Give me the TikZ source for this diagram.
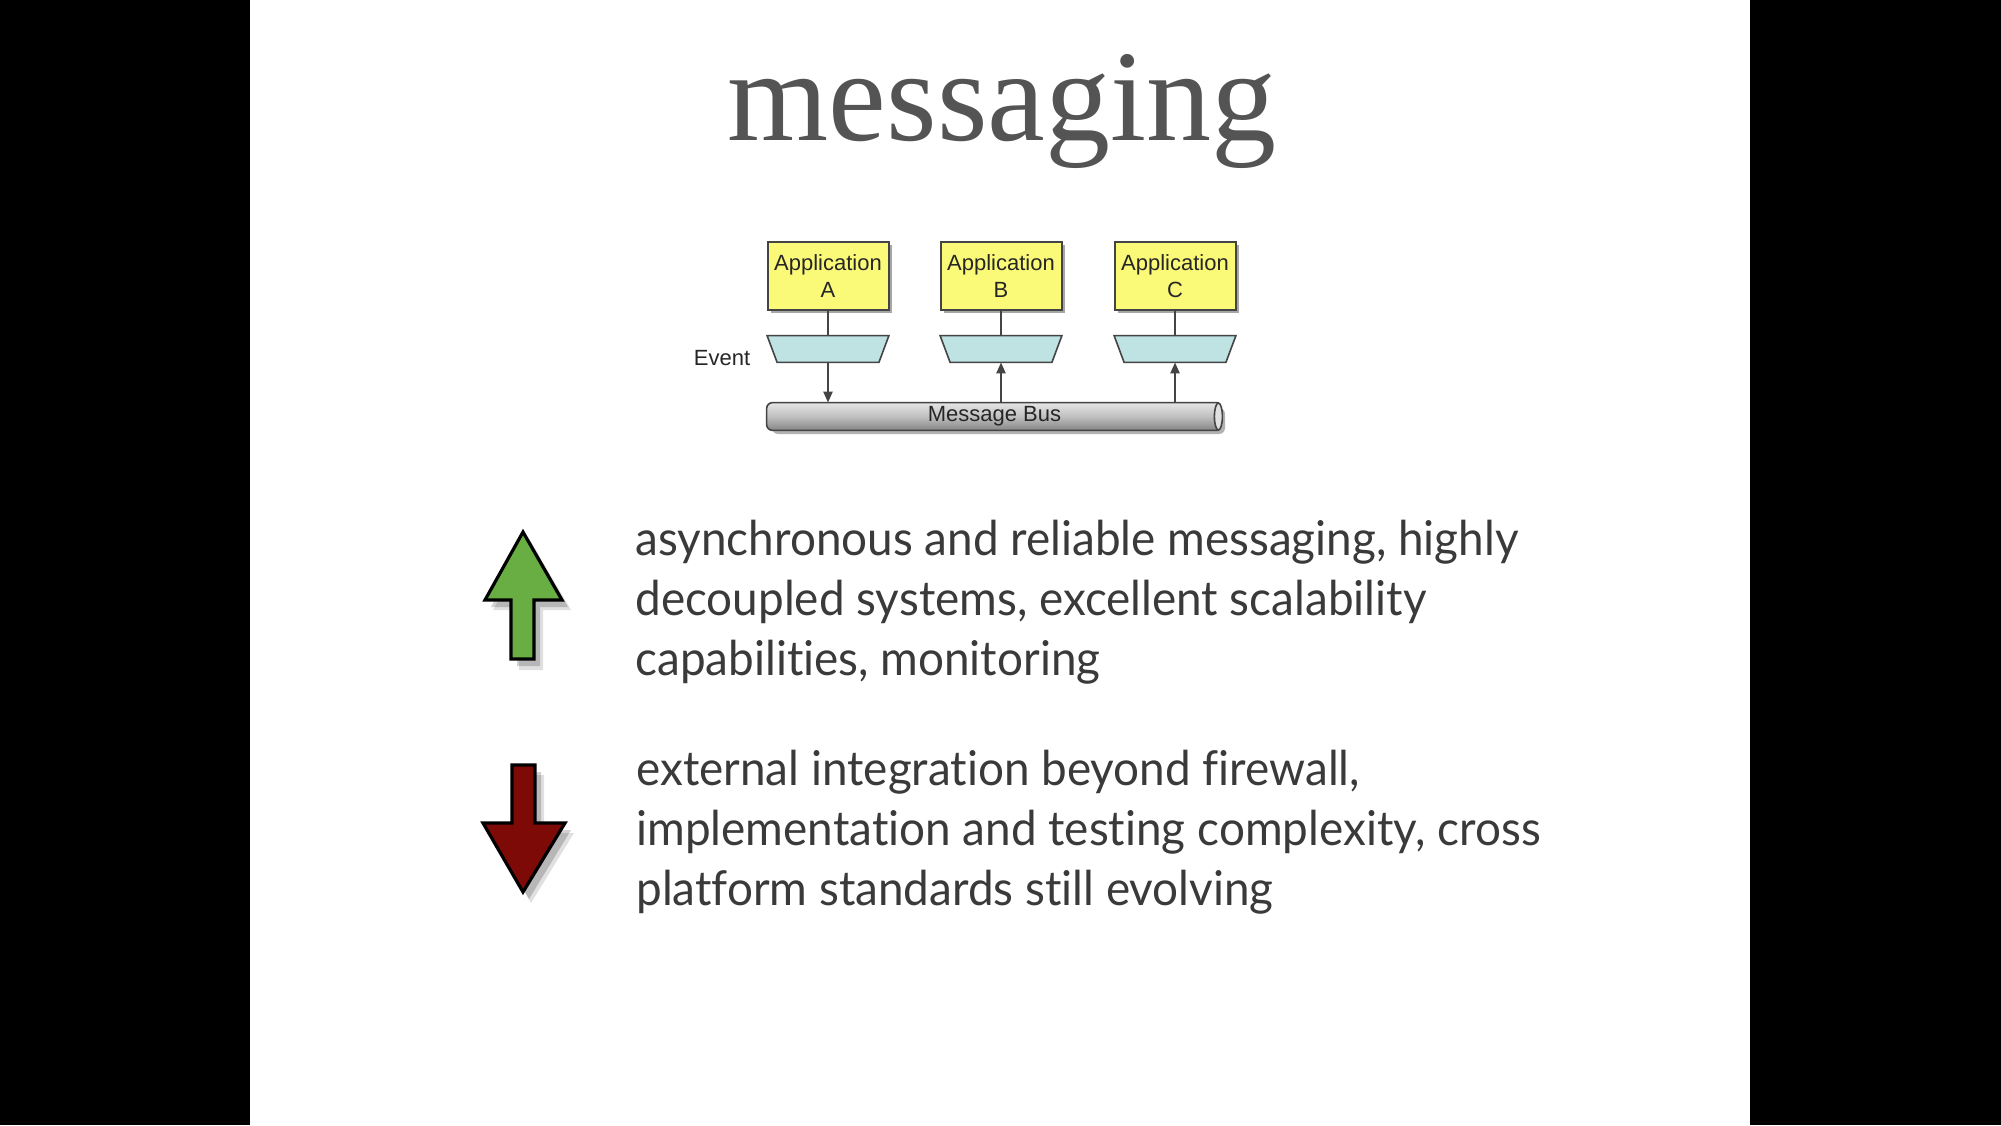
\documentclass[tikz,border=0pt]{standalone}
\usepackage{fontspec}
\setmainfont{Liberation Serif}
\newfontfamily\arialf{Liberation Sans}
\newfontfamily\bodyf[FakeStretch=0.955,Ligatures={NoCommon}]{Lato}
\usetikzlibrary{shapes.geometric,arrows.meta}
\definecolor{titlegray}{HTML}{545454}
\definecolor{bodygray}{HTML}{3A3A3A}
\definecolor{appyellow}{HTML}{FAFA78}
\definecolor{evcyan}{HTML}{BFE3E3}
\definecolor{upgreen}{HTML}{68AE42}
\definecolor{downred}{HTML}{7E0A08}
\definecolor{lineg}{HTML}{444444}
\tikzset{
  appbox/.style={draw=lineg, line width=1pt, fill=appyellow, minimum width=60.5pt, minimum height=34pt, inner sep=0pt, align=center, font=\arialf\fontsize{11}{13.5}\selectfont, text=black!85},
  evbox/.style={draw=none, rectangle, minimum width=60.5pt, minimum height=13pt, inner sep=0pt},
  evshape/.style={draw=lineg, line width=0.8pt, fill=evcyan, line join=miter},
  conn/.style={draw=lineg, line width=1.1pt},
  tipd/.style={-{Triangle[length=5.5pt,width=4.5pt]}},
  bodytext/.style={anchor=base west, inner sep=0pt, text=bodygray, font=\bodyf\fontsize{24}{28}\selectfont},
  bigarrow/.style={line width=1.6pt, draw=black, line join=miter},
}
\begin{document}
\begin{tikzpicture}[x=0.5pt,y=-0.5pt]
\useasboundingbox (0,0) rectangle (2001,1125);
\fill[black] (0,0) rectangle (2001,1125);
\fill[white] (250,0) rectangle (1750,1125);

% title
\node[anchor=base, inner sep=0pt, text=titlegray, font=\fontsize{65}{70}\selectfont] (title) at (1002,140) {messaging};

% diagram
\foreach \n/\x/\l in {A/828/A, B/1001/B, C/1175/C}{
  \fill[black!35] (\x-57.5,245) rectangle (\x+63.5,313);
  \node[appbox] (app\n) at (\x,276) {Application\\\l};
  \node[evbox] (ev\n) at (\x,349) {};
  \path[evshape] (ev\n.north west) -- (ev\n.north east) -- ([xshift=-5pt]ev\n.south east) -- ([xshift=5pt]ev\n.south west) -- cycle;
}
\node[anchor=center, inner sep=0pt, font=\arialf\fontsize{11}{13}\selectfont, text=black!85] (evlabel) at (722,358) {Event};

% bus
\fill[black!30, rounded corners=3pt] (772,408) rectangle (1225,434);
\node[rectangle, draw=none, minimum width=227.5pt, minimum height=13.5pt, inner sep=0pt] (bus) at (994.5,416.5) {};
\path[draw=lineg, line width=0.8pt, top color=black!10, bottom color=black!48, middle color=black!25, rounded corners=3pt]
  ([xshift=-2pt]bus.north east) -- (bus.north west) -- (bus.south west) -- ([xshift=-2pt]bus.south east);
\draw[lineg, line width=0.8pt, fill=black!12] ([xshift=-2pt]bus.east) ellipse [x radius=2pt, y radius=6.75pt];
\node[inner sep=0pt, font=\arialf\fontsize{11}{13}\selectfont, text=black!85] (buslabel) at (bus.center) {Message Bus};

\foreach \n in {A,B,C}{
  \draw[conn] (app\n) -- (ev\n);
}
\draw[conn,tipd] (evA) -- (evA |- bus.north);
\draw[conn,tipd] (evB |- bus.north) -- (evB);
\draw[conn,tipd] (evC |- bus.north) -- (evC);

% green up arrow
\fill[black, opacity=0.18] (529,539) -- (568,607) -- (540,607) -- (540,666) -- (517,666) -- (517,607) -- (491,607) -- cycle;
\fill[black, opacity=0.12] (531,542) -- (571,610) -- (543,610) -- (543,670) -- (519,670) -- (519,610) -- (493,610) -- cycle;
\draw[bigarrow, fill=upgreen] (523,532) -- (562,600) -- (534,600) -- (534,659) -- (511,659) -- (511,600) -- (485,600) -- cycle;

% red down arrow
\fill[black, opacity=0.18] (518,772) -- (541,772) -- (541,830) -- (571,830) -- (529,899) -- (489,830) -- (518,830) -- cycle;
\fill[black, opacity=0.12] (520,775) -- (544,775) -- (544,833) -- (574,833) -- (531,903) -- (491,833) -- (520,833) -- cycle;
\draw[bigarrow, fill=downred] (512,765) -- (535,765) -- (535,823) -- (565,823) -- (523,892) -- (483,823) -- (512,823) -- cycle;

% body text
\node[bodytext] (p1) at (635,555) {asynchronous and reliable messaging, highly};
\node[bodytext] (p2) at (635,615) {decoupled systems, excellent scalability};
\node[bodytext] (p3) at (635,675) {capabilities, monitoring};
\node[bodytext] (n1) at (636,785) {external integration beyond firewall,};
\node[bodytext] (n2) at (636,845) {implementation and testing complexity, cross};
\node[bodytext] (n3) at (636,905) {platform standards still evolving};
\end{tikzpicture}
\end{document}
